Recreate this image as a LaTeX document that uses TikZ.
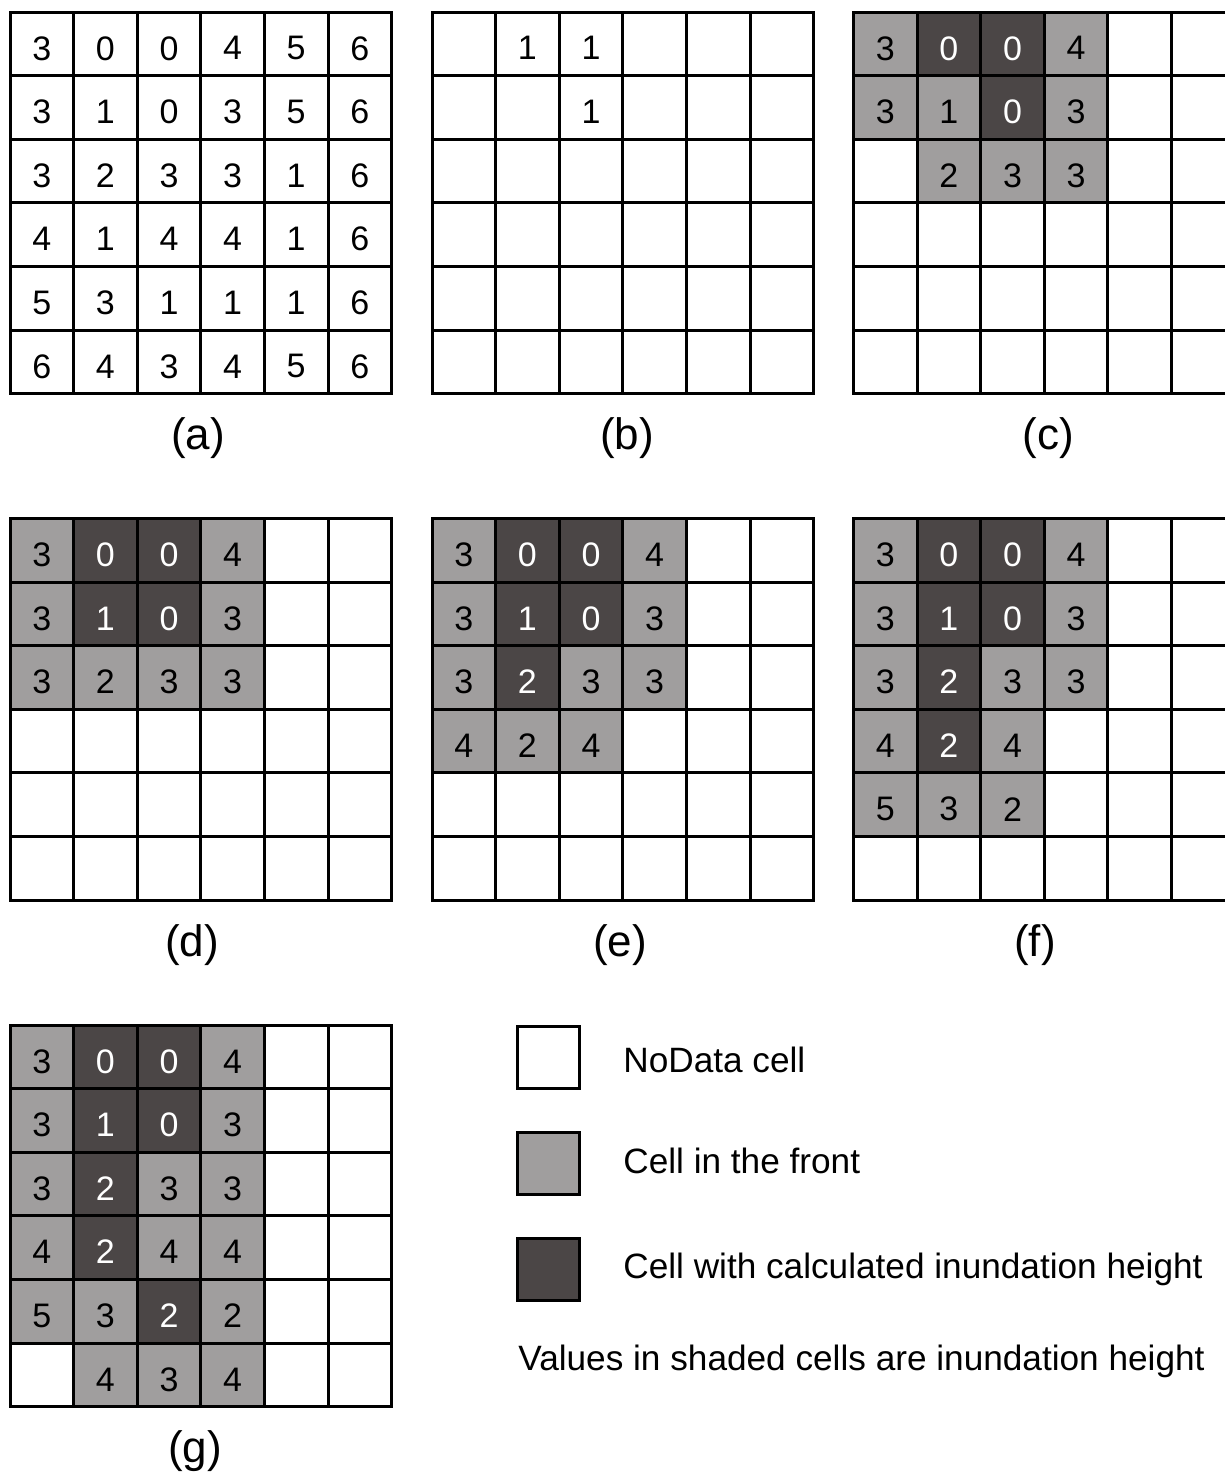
\documentclass[tikz,border=0pt]{standalone}
\usepackage{fontspec}
\setmainfont{Liberation Sans}
\definecolor{cL}{RGB}{160,158,158}
\definecolor{cD}{RGB}{75,70,70}
\definecolor{cW}{RGB}{255,255,255}
\colorlet{tL}{black}
\colorlet{tD}{white}
\colorlet{tW}{black}
\newcommand{\cellsz}{63.6}
\newcommand{\mkpanel}[4]{%
  \foreach \cc/\rr/\ff/\vv in {#4}{%
    \path[fill=c\ff] ({#2+\cc*\cellsz},{#3+\rr*\cellsz}) rectangle ++(\cellsz,\cellsz);
    \node[digit,text=t\ff] (#1-\rr-\cc) at ({#2+(\cc+0.5)*\cellsz},{#3+(\rr+0.5)*\cellsz+4.5}) {\vv};
  }
  \foreach \ii in {1,...,5}{%
    \draw[gridline] ({#2+\ii*\cellsz},#3) -- ++(0,{6*\cellsz});
    \draw[gridline] (#2,{#3+\ii*\cellsz}) -- ++({6*\cellsz},0);
  }
  \draw[gridline] (#2,#3) rectangle ++({6*\cellsz},{6*\cellsz});
}
\tikzset{
  digit/.style={inner sep=0pt,font=\fontsize{17}{20}\selectfont},
  gridline/.style={line width=1.5pt,draw=black,line cap=rect},
  lbl/.style={inner sep=0pt,font=\fontsize{22}{26}\selectfont},
  legtext/.style={inner sep=0pt,anchor=base west,font=\fontsize{17.6}{21}\selectfont},
  legbox/.style={draw=black,line width=1.5pt,minimum width=31pt,minimum height=31pt,inner sep=0pt}
}
\begin{document}
\begin{tikzpicture}[x=0.5pt,y=-0.5pt]
\fill[white] (0,0) rectangle (1225,1472);
\clip (0,0) rectangle (1225,1472);
\useasboundingbox (0,0) rectangle (1225,1472);
% (a)
\mkpanel{a}{10}{12}{0/0/W/3,1/0/W/0,2/0/W/0,3/0/W/4,4/0/W/5,5/0/W/6,
0/1/W/3,1/1/W/1,2/1/W/0,3/1/W/3,4/1/W/5,5/1/W/6,
0/2/W/3,1/2/W/2,2/2/W/3,3/2/W/3,4/2/W/1,5/2/W/6,
0/3/W/4,1/3/W/1,2/3/W/4,3/3/W/4,4/3/W/1,5/3/W/6,
0/4/W/5,1/4/W/3,2/4/W/1,3/4/W/1,4/4/W/1,5/4/W/6,
0/5/W/6,1/5/W/4,2/5/W/3,3/5/W/4,4/5/W/5,5/5/W/6}
% (b)
\mkpanel{b}{432}{12}{1/0/W/1,2/0/W/1,2/1/W/1}
% (c)
\mkpanel{c}{853.5}{12}{0/0/L/3,1/0/D/0,2/0/D/0,3/0/L/4,
0/1/L/3,1/1/L/1,2/1/D/0,3/1/L/3,
1/2/L/2,2/2/L/3,3/2/L/3}
% (d)
\mkpanel{d}{10}{518.5}{0/0/L/3,1/0/D/0,2/0/D/0,3/0/L/4,
0/1/L/3,1/1/D/1,2/1/D/0,3/1/L/3,
0/2/L/3,1/2/L/2,2/2/L/3,3/2/L/3}
% (e)
\mkpanel{e}{432}{518.5}{0/0/L/3,1/0/D/0,2/0/D/0,3/0/L/4,
0/1/L/3,1/1/D/1,2/1/D/0,3/1/L/3,
0/2/L/3,1/2/D/2,2/2/L/3,3/2/L/3,
0/3/L/4,1/3/L/2,2/3/L/4}
% (f)
\mkpanel{f}{853.5}{518.5}{0/0/L/3,1/0/D/0,2/0/D/0,3/0/L/4,
0/1/L/3,1/1/D/1,2/1/D/0,3/1/L/3,
0/2/L/3,1/2/D/2,2/2/L/3,3/2/L/3,
0/3/L/4,1/3/D/2,2/3/L/4,
0/4/L/5,1/4/L/3,2/4/L/2}
% (g)
\mkpanel{g}{10}{1025}{0/0/L/3,1/0/D/0,2/0/D/0,3/0/L/4,
0/1/L/3,1/1/D/1,2/1/D/0,3/1/L/3,
0/2/L/3,1/2/D/2,2/2/L/3,3/2/L/3,
0/3/L/4,1/3/D/2,2/3/L/4,3/3/L/4,
0/4/L/5,1/4/L/3,2/4/D/2,3/4/L/2,
1/5/L/4,2/5/L/3,3/5/L/4}
% labels
\node[lbl] (la) at (198,438) {(a)};
\node[lbl] (lb) at (627,438) {(b)};
\node[lbl] (lc) at (1048,438) {(c)};
\node[lbl] (ld) at (192,945) {(d)};
\node[lbl] (le) at (620,945) {(e)};
\node[lbl] (lf) at (1035,945) {(f)};
\node[lbl] (lg) at (195,1451) {(g)};
% legend
\node[legbox,fill=cW] (k1) at (548.5,1057) {};
\node[legbox,fill=cL] (k2) at (548.5,1163) {};
\node[legbox,fill=cD] (k3) at (548.5,1269) {};
\node[legtext] (t1) at (623,1072) {NoData cell};
\node[legtext] (t2) at (623,1173) {Cell in the front};
\node[legtext] (t3) at (623,1278) {Cell with calculated inundation height};
\node[legtext] (t4) at (518,1370) {Values in shaded cells are inundation height};
\end{tikzpicture}
\end{document}
